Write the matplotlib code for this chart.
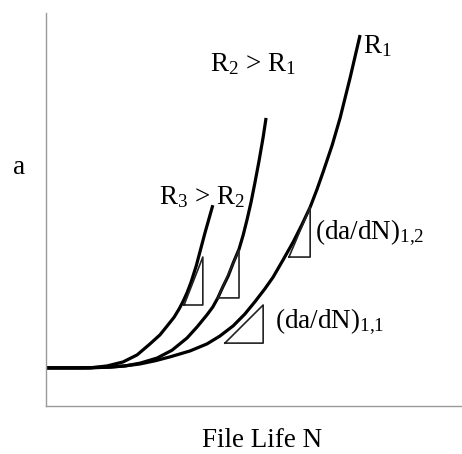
import matplotlib
matplotlib.use('Agg')
from matplotlib import pyplot as plt

plt.rcParams['font.family'] = ['Liberation Serif', 'DejaVu Serif']
plt.rcParams['mathtext.fontset'] = 'custom'
plt.rcParams['mathtext.rm'] = 'Liberation Serif'
plt.rcParams['mathtext.it'] = 'Liberation Serif:italic'

""" Curves read off the picture (N and a in arbitrary units, 0-100) """
# R1 (lowest stress ratio)
n_r1 = [0, 8.2, 15.4, 19.0, 22.6, 26.2, 29.8, 34.6, 38.7, 41.8, 45.0, 47.8, 50.2,
        52.6, 54.6, 57.0, 59.4, 61.5, 63.5, 65.1, 66.6, 68.8, 70.7, 73.1, 75.5]
a_r1 = [9.7, 9.7, 9.9, 10.2, 10.7, 11.5, 12.5, 14.0, 15.8, 17.8, 20.4, 23.4, 26.5,
        29.8, 32.8, 37.2, 41.7, 46.1, 50.6, 55.0, 59.5, 66.4, 73.3, 83.5, 94.4]

# R2 > R1
n_r2 = [0, 10.6, 15.4, 19.0, 22.6, 26.7, 30.3, 33.9, 36.3, 38.7, 40.1, 41.3,
        42.5, 43.8, 45.0, 46.4, 47.4, 48.3, 49.3, 50.2, 51.2, 52.2, 52.9]
a_r2 = [9.7, 9.7, 9.9, 10.2, 10.9, 12.2, 14.2, 17.3, 20.1, 23.2, 25.2, 27.5,
        30.3, 33.1, 36.4, 39.9, 43.5, 47.3, 51.9, 56.7, 62.3, 68.4, 73.3]

# R3 > R2
n_r3 = [0, 10.6, 14.7, 18.5, 21.9, 25.0, 27.4, 29.3, 30.8, 32.0, 32.9, 33.9,
        34.9, 36.1, 38.2, 40.1]
a_r3 = [9.7, 9.7, 10.2, 11.2, 13.0, 15.8, 18.1, 20.6, 22.6, 24.7, 26.5, 28.8,
        31.6, 35.6, 44.0, 51.1]

# slope triangles: (N left, N right, a bottom, a top)
triangles = [
    (43.0, 52.2, 16.0, 25.7),   # (da/dN)1,1 on R1
    (58.4, 63.5, 37.9, 50.6),   # (da/dN)1,2 on R1
    (41.3, 46.4, 27.5, 39.7),   # on R2
    (33.2, 37.7, 25.7, 37.9),   # on R3
]

W, H = 462, 454
fig = plt.figure(figsize=(W / 100, H / 100), dpi=100)
ax = fig.add_axes([46 / W, 48 / H, 416 / W, 393 / H])
ax.set_xlim(0, 100)
ax.set_ylim(0, 100)

for n, a in [(n_r1, a_r1), (n_r2, a_r2), (n_r3, a_r3)]:
    ax.plot(n, a, color='black', lw=2.3, solid_capstyle='butt', solid_joinstyle='round')

for x0, x1, y0, y1 in triangles:
    ax.plot([x0, x1, x1, x0], [y0, y0, y1, y0], color='#222222', lw=1.2)

ax.set_xticks([])
ax.set_yticks([])
for s in ['top', 'right']:
    ax.spines[s].set_visible(False)
for s in ['left', 'bottom']:
    ax.spines[s].set_color('#9a9a9a')
    ax.spines[s].set_linewidth(1.0)


def put(px, py, s, **kw):
    fig.text(px / W, 1 - py / H, s, fontsize=19.5, va='baseline', **kw)


put(363, 53, r'R$_1$')
put(210, 71, r'R$_2$ > R$_1$')
put(159, 204, r'R$_3$ > R$_2$')
put(315, 239, r'(da/dN)$_{1{,}2}$')
put(275, 328, r'(da/dN)$_{1{,}1}$')
put(19, 174, 'a', ha='center')
put(262, 447, 'File Life N', ha='center')

plt.savefig('out.png', dpi=100)
